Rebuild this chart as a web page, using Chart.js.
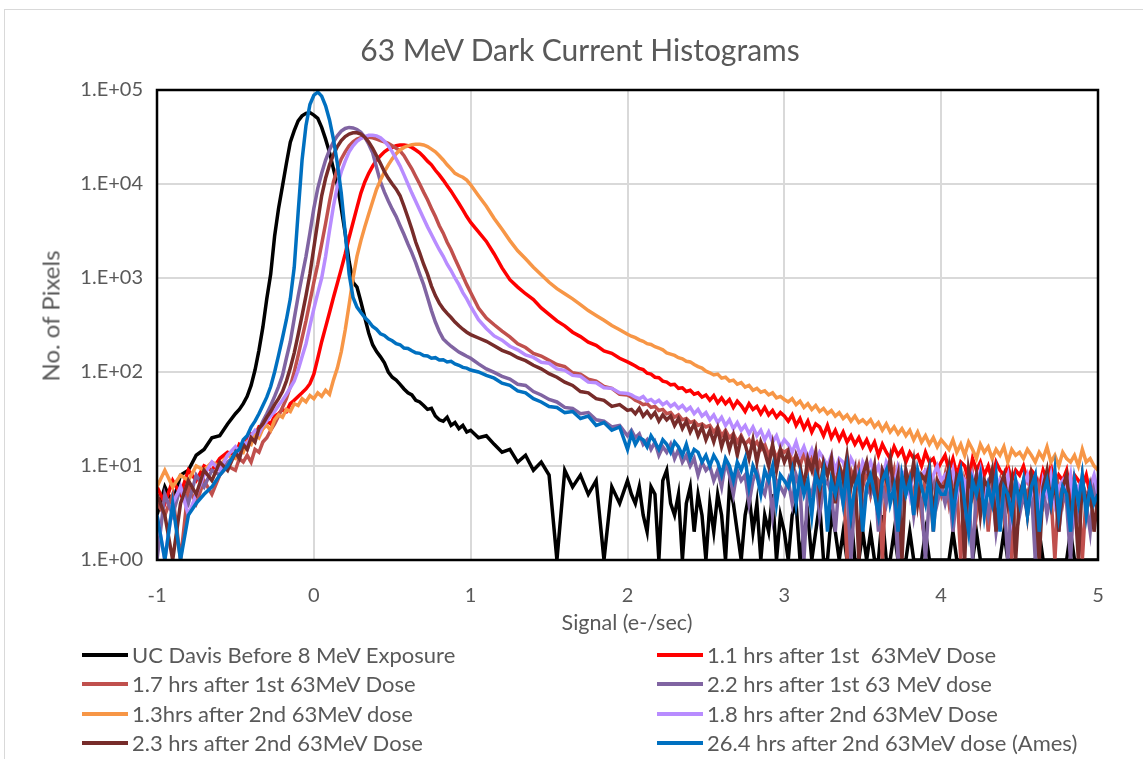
<!DOCTYPE html>
<html>
<head>
<meta charset="utf-8">
<script src="https://cdn.jsdelivr.net/npm/chart.js@4.4.1/dist/chart.umd.min.js"></script>
<style>
  body { margin: 0; background: #fff; font-family: Lato, "Liberation Sans", sans-serif; color: #595959; }
  #wrap { position: relative; width: 1143px; height: 759px; overflow: hidden; }
  #frame { position: absolute; left: 4px; top: 9px; width: 1200px; height: 800px; border: 1px solid #d9d9d9; }
  #chart { position: absolute; left: 0; top: 0; }
  #title { position: absolute; left: 0; width: 1160px; top: 31px; text-align: center; font-size: 30px; }
  #xtitle { position: absolute; left: 0; width: 1254px; top: 609px; text-align: center; font-size: 21.5px; }
  #ytitle { position: absolute; left: 50px; top: 316px; transform: translate(-50%, -50%) rotate(-90deg); font-size: 24px; white-space: nowrap; }
  .item { position: absolute; height: 26px; font-size: 22px; white-space: pre; line-height: 26px; }
  .item span.swatch { position: absolute; left: 0; top: 11px; width: 46px; height: 4px; }
  .item span.lbl { position: absolute; left: 50px; top: 0; }
</style>
</head>
<body>
<div id="wrap">
  <div id="frame"></div>
  <canvas id="chart" width="1143" height="759"></canvas>
  <div id="title">63 MeV Dark Current Histograms</div>
  <div id="xtitle">Signal (e-/sec)</div>
  <div id="ytitle">No. of Pixels</div>
  <div id="legend"></div>
</div>
<script>
// signal bins (e-/sec)
const signal = [
  -1, -0.95, -0.9, -0.85, -0.8, -0.75, -0.7, -0.65, -0.6, -0.55, -0.5, -0.475, -0.45, -0.425, -0.4, -0.375, -0.35, -0.325, -0.3, -0.275, -0.25, -0.225, -0.2, -0.175, -0.15, -0.125, -0.1, -0.075, -0.05, -0.025, 0,
  0.025, 0.05, 0.075, 0.1, 0.125, 0.15, 0.175, 0.2, 0.225, 0.25, 0.275, 0.3, 0.325, 0.35, 0.375, 0.4, 0.425, 0.45, 0.475, 0.5, 0.525, 0.55, 0.575, 0.6, 0.625, 0.65, 0.675, 0.7, 0.725, 0.75, 0.775, 0.8, 0.825, 0.85, 0.875, 0.9, 0.925, 0.95, 0.975, 1,
  1.05, 1.1, 1.15, 1.2, 1.25, 1.3, 1.35, 1.4, 1.45, 1.5, 1.55, 1.6, 1.65, 1.7, 1.75, 1.8, 1.85, 1.9, 1.95, 2,
  2.025, 2.05, 2.075, 2.1, 2.125, 2.15, 2.175, 2.2, 2.225, 2.25, 2.275, 2.3, 2.325, 2.35, 2.375, 2.4, 2.425, 2.45, 2.475, 2.5,
  2.525, 2.55, 2.575, 2.6, 2.625, 2.65, 2.675, 2.7, 2.725, 2.75, 2.775, 2.8, 2.825, 2.85, 2.875, 2.9, 2.925, 2.95, 2.975, 3,
  3.025, 3.05, 3.075, 3.1, 3.125, 3.15, 3.175, 3.2, 3.225, 3.25, 3.275, 3.3, 3.325, 3.35, 3.375, 3.4, 3.425, 3.45, 3.475, 3.5,
  3.525, 3.55, 3.575, 3.6, 3.625, 3.65, 3.675, 3.7, 3.725, 3.75, 3.775, 3.8, 3.825, 3.85, 3.875, 3.9, 3.925, 3.95, 3.975, 4,
  4.025, 4.05, 4.075, 4.1, 4.125, 4.15, 4.175, 4.2, 4.225, 4.25, 4.275, 4.3, 4.325, 4.35, 4.375, 4.4, 4.425, 4.45, 4.475, 4.5,
  4.525, 4.55, 4.575, 4.6, 4.625, 4.65, 4.675, 4.7, 4.725, 4.75, 4.775, 4.8, 4.825, 4.85, 4.875, 4.9, 4.925, 4.95, 4.975, 5
];

const ucDavisBefore = [
  3, 6, 4, 8, 9, 13, 15, 20, 21, 28, 36, 40, 46, 55, 72, 105, 170, 300, 600, 1100, 2800, 5500, 9500, 16500, 27800, 37000, 47000, 53000, 56500, 57500, 54000,
  50000, 40000, 30000, 21700, 14500, 9800, 5500, 3000, 1500, 900, 800, 560, 380, 260, 195, 165, 145, 125, 100, 88, 82, 74, 66, 60, 57, 50, 48, 44, 40, 41, 34, 31, 30, 33, 27, 29, 25, 27, 23, 24,
  20, 21, 17, 14, 15, 11, 13, 9, 11, 8, 1, 9, 6, 8, 5, 7, 1, 6, 4, 7,
  5, 4, 6, 3, 2, 6, 5, 1, 7, 9, 4, 3, 5, 1, 4, 6, 2, 5, 3, 1,
  4, 2, 5, 3, 1, 6, 4, 2, 1, 3, 5, 2, 4, 1, 3, 2, 5, 1, 3, 2,
  1, 3, 4, 1, 2, 3, 1, 2, 4, 1, 1, 3, 2, 1, 2, 1, 3, 1, 1, 2,
  1, 2, 1, 1, 3, 1, 1, 2, 1, 1, 1, 2, 1, 1, 1, 2, 1, 1, 1, 1,
  1, 1, 2, 1, 1, 1, 1, 1, 2, 1, 1, 1, 1, 1, 1, 2, 1, 1, 1, 1,
  1, 1, 1, 1, 2, 1, 1, 1, 1, 1, 1, 1, 2, 1, 1, 1, 1, 1, 1, 1
];
const first11h = [
  6, 4, 7, 5, 9, 7, 10, 9, 12, 14, 13, 17, 16, 20, 22, 21, 26, 25, 30, 28, 34, 36, 40, 38, 46, 50, 55, 60, 66, 75, 95,
  140, 210, 300, 430, 620, 880, 1250, 1800, 2700, 3900, 5600, 8000, 10500, 13000, 15500, 18000, 20000, 22000, 23500, 24500, 25500, 26000, 26000, 25500, 24500, 23000, 21500, 19500, 17500, 16000, 14000, 12500, 11000, 9600, 8400, 7200, 6200, 5300, 4500, 3900,
  3100, 2450, 1800, 1280, 960, 800, 680, 590, 480, 410, 350, 310, 265, 238, 208, 192, 168, 158, 140, 128,
  122, 116, 109, 106, 97, 95, 88, 87, 80, 78, 73, 74, 67, 68, 62, 64, 58, 60, 54, 57,
  50, 56, 47, 53, 46, 51, 42, 49, 44, 38, 46, 40, 43, 36, 42, 35, 39, 33, 37, 34,
  30, 35, 27, 32, 25, 30, 23, 28, 26, 21, 27, 20, 24, 19, 23, 18, 21, 17, 20, 16,
  19, 15, 18, 13, 17, 14, 12, 16, 13, 15, 11, 14, 12, 13, 10, 14, 11, 12, 9, 11,
  13, 9, 12, 8, 11, 10, 7, 12, 9, 11, 8, 10, 7, 11, 9, 8, 10, 7, 9, 8,
  10, 7, 9, 8, 6, 9, 7, 10, 6, 8, 7, 9, 5, 8, 7, 6, 8, 5, 7, 5
];
const first17h = [
  4, 3, 5, 1, 6, 4, 7, 5, 8, 10, 9, 12, 11, 13, 11, 15, 14, 18, 20, 24, 28, 34, 42, 52, 70, 100, 150, 230, 350, 560, 900,
  1400, 2300, 3800, 6500, 10500, 14500, 18500, 22000, 25500, 28000, 30000, 31000, 31500, 31500, 31000, 30000, 29000, 28000, 27000, 25500, 24000, 22500, 20000, 17000, 14500, 12000, 10000, 8200, 6800, 5500, 4500, 3600, 3000, 2400, 2000, 1600, 1300, 1050, 850, 700,
  480, 375, 318, 272, 236, 200, 182, 158, 148, 133, 120, 114, 98, 95, 84, 80, 70, 67, 58, 57,
  54, 50, 48, 45, 46, 42, 43, 39, 40, 36, 37, 33, 35, 31, 32, 29, 30, 27, 28, 26,
  27, 23, 26, 21, 24, 20, 22, 18, 21, 17, 19, 16, 18, 15, 17, 13, 16, 12, 15, 14,
  15, 11, 13, 10, 14, 9, 12, 7, 11, 9, 8, 11, 6, 10, 8, 1, 9, 7, 10, 6,
  9, 5, 8, 7, 1, 8, 6, 9, 4, 7, 6, 8, 5, 7, 3, 8, 6, 2, 7, 5,
  8, 4, 7, 6, 1, 7, 5, 8, 3, 6, 7, 2, 6, 5, 7, 3, 6, 1, 5, 4,
  6, 5, 7, 2, 6, 4, 7, 5, 1, 6, 4, 7, 3, 5, 6, 1, 5, 4, 6, 3
];
const first22h = [
  1, 5, 3, 6, 4, 8, 6, 9, 8, 11, 13, 12, 16, 15, 19, 22, 24, 30, 36, 44, 55, 70, 92, 140, 210, 370, 640, 1050, 1700, 3000, 5500,
  9000, 13000, 18000, 23000, 28000, 32500, 36500, 39000, 40000, 39500, 38000, 35500, 31500, 26500, 21500, 15000, 10500, 8200, 6600, 5400, 4500, 3600, 2900, 2300, 1850, 1450, 1100, 850, 620, 450, 340, 270, 225, 205, 188, 175, 163, 155, 147, 140,
  122, 108, 99, 90, 84, 74, 72, 62, 57, 51, 48, 42, 41, 36, 37, 31, 30, 26, 27, 21,
  24, 20, 22, 17, 19, 15, 18, 13, 16, 14, 17, 12, 15, 11, 13, 10, 12, 8, 11, 9,
  10, 7, 9, 6, 11, 8, 5, 9, 7, 8, 4, 7, 9, 6, 5, 8, 3, 7, 6, 5,
  7, 4, 8, 6, 1, 6, 5, 8, 3, 6, 7, 5, 2, 7, 4, 6, 1, 5, 7, 3,
  6, 5, 8, 2, 6, 4, 7, 5, 1, 6, 5, 7, 3, 6, 4, 1, 5, 7, 4, 6,
  4, 6, 2, 5, 7, 3, 5, 1, 6, 4, 5, 3, 6, 2, 4, 5, 1, 4, 6, 3,
  5, 3, 6, 1, 4, 6, 3, 5, 7, 2, 5, 4, 1, 6, 3, 5, 4, 2, 6, 3
];
const second13h = [
  6, 9, 6, 8, 7, 10, 9, 11, 10, 13, 12, 15, 14, 18, 17, 22, 20, 25, 27, 24, 31, 35, 33, 40, 38, 46, 44, 52, 48, 56, 52,
  60, 55, 64, 58, 82, 110, 165, 280, 520, 1000, 1700, 2500, 3500, 4800, 6500, 8800, 11000, 13500, 16000, 18500, 21000, 23000, 24500, 25500, 26200, 26500, 26500, 26000, 25000, 23500, 22000, 20000, 18000, 16000, 14500, 13000, 12300, 11800, 11000, 9800,
  7500, 5800, 4300, 3300, 2500, 1950, 1600, 1300, 1080, 900, 770, 680, 600, 520, 450, 400, 355, 312, 282, 252,
  240, 232, 220, 212, 200, 196, 186, 180, 172, 160, 155, 150, 142, 138, 130, 128, 120, 114, 110, 102,
  98, 93, 95, 86, 88, 80, 82, 74, 77, 69, 72, 64, 67, 61, 63, 57, 60, 53, 55, 51,
  48, 52, 45, 49, 42, 46, 40, 44, 38, 41, 36, 39, 34, 37, 32, 35, 30, 34, 29, 31,
  28, 31, 26, 29, 24, 28, 23, 26, 22, 25, 21, 24, 19, 23, 18, 21, 17, 20, 16, 19,
  17, 15, 19, 14, 17, 13, 18, 15, 12, 17, 14, 16, 12, 15, 13, 16, 11, 15, 13, 14,
  12, 15, 13, 11, 14, 12, 16, 11, 13, 10, 14, 12, 11, 13, 10, 15, 11, 12, 10, 9
];
const second18h = [
  3, 1, 4, 6, 3, 5, 8, 11, 9, 13, 16, 14, 18, 17, 21, 24, 22, 27, 30, 34, 38, 44, 50, 58, 68, 80, 105, 145, 200, 310, 470,
  690, 1000, 1700, 3200, 5800, 9500, 13500, 17500, 22000, 25500, 28500, 30500, 32000, 33000, 33000, 32500, 31000, 28500, 25500, 22000, 18500, 15500, 12500, 10000, 8000, 6500, 5300, 4300, 3500, 2900, 2400, 2000, 1700, 1400, 1200, 1000, 850, 700, 600, 500,
  360, 290, 242, 218, 188, 172, 152, 143, 127, 124, 108, 104, 92, 90, 78, 77, 68, 67, 60, 59,
  57, 54, 52, 55, 49, 51, 47, 50, 45, 48, 43, 46, 41, 44, 39, 42, 36, 40, 34, 37,
  31, 35, 29, 33, 27, 31, 25, 29, 24, 27, 22, 26, 21, 24, 19, 23, 18, 21, 16, 19,
  17, 14, 18, 13, 16, 12, 15, 11, 14, 12, 10, 13, 9, 12, 11, 8, 12, 10, 7, 11,
  9, 11, 8, 10, 7, 11, 9, 6, 10, 8, 9, 5, 10, 7, 8, 9, 6, 8, 10, 7,
  8, 6, 9, 5, 8, 7, 4, 8, 6, 9, 5, 7, 8, 4, 7, 6, 8, 3, 7, 6,
  6, 8, 5, 7, 3, 7, 5, 8, 4, 6, 7, 5, 8, 3, 6, 7, 4, 6, 8, 5
];
const second23h = [
  5, 3, 1, 4, 7, 5, 9, 7, 11, 9, 14, 12, 17, 15, 20, 18, 25, 28, 33, 38, 45, 52, 62, 80, 110, 160, 250, 400, 650, 1100, 2100,
  4000, 7500, 11500, 16000, 20500, 25000, 29000, 32000, 34000, 35000, 35000, 34000, 31500, 28000, 24000, 20000, 16500, 13500, 11500, 10000, 8800, 7500, 5800, 4400, 3300, 2400, 1850, 1400, 1100, 820, 650, 540, 470, 420, 380, 340, 310, 285, 265, 250,
  230, 212, 190, 170, 158, 142, 132, 118, 108, 96, 88, 78, 72, 62, 60, 52, 50, 43, 45, 39,
  40, 36, 41, 34, 38, 33, 37, 30, 35, 31, 34, 27, 32, 25, 30, 23, 28, 21, 26, 19,
  24, 18, 25, 16, 22, 15, 21, 13, 20, 17, 12, 19, 11, 18, 14, 10, 17, 9, 15, 11,
  14, 8, 13, 10, 6, 12, 9, 14, 5, 11, 8, 12, 4, 10, 7, 13, 6, 9, 1, 8,
  11, 6, 10, 3, 9, 7, 12, 5, 8, 1, 9, 6, 11, 4, 8, 7, 10, 3, 7, 6,
  6, 10, 4, 8, 7, 1, 9, 5, 8, 3, 7, 6, 9, 2, 6, 8, 4, 7, 1, 5,
  7, 3, 8, 5, 1, 6, 9, 4, 7, 2, 6, 8, 3, 5, 1, 7, 4, 6, 2, 5
];
const ames264h = [
  3, 1, 4, 1, 3, 4, 5, 6, 8, 10, 14, 15, 19, 21, 26, 30, 36, 44, 54, 70, 100, 150, 230, 360, 600, 1300, 5000, 18000, 42000, 70000, 88000,
  95000, 86000, 68000, 48000, 30000, 16500, 8000, 3000, 1100, 620, 490, 430, 380, 345, 305, 285, 255, 245, 225, 215, 200, 195, 180, 178, 168, 160, 158, 150, 148, 140, 142, 134, 135, 128, 130, 122, 118, 112, 110, 105,
  100, 92, 86, 76, 72, 63, 60, 52, 48, 43, 42, 37, 38, 32, 34, 27, 29, 24, 26, 15,
  22, 17, 20, 19, 16, 21, 18, 15, 19, 17, 14, 18, 16, 13, 17, 12, 15, 14, 11, 13,
  10, 13, 11, 8, 12, 10, 7, 11, 9, 12, 6, 10, 8, 5, 9, 7, 10, 4, 8, 7,
  6, 9, 4, 8, 5, 7, 3, 8, 6, 9, 2, 7, 5, 8, 4, 9, 3, 6, 8, 2,
  6, 8, 5, 3, 7, 9, 4, 6, 2, 8, 5, 7, 3, 9, 6, 4, 8, 2, 6, 5,
  5, 8, 3, 6, 9, 4, 2, 7, 5, 8, 3, 6, 4, 8, 2, 6, 5, 3, 7, 4,
  7, 3, 6, 8, 2, 5, 7, 4, 9, 3, 6, 5, 2, 7, 4, 8, 3, 6, 4, 5
];

const seriesNames = [
  'UC Davis Before 8 MeV Exposure',
  '1.1 hrs after 1st  63MeV Dose',
  '1.7 hrs after 1st 63MeV Dose',
  '2.2 hrs after 1st 63 MeV dose',
  '1.3hrs after 2nd 63MeV dose',
  '1.8 hrs after 2nd 63MeV Dose',
  '2.3 hrs after 2nd 63MeV Dose',
  '26.4 hrs after 2nd 63MeV dose (Ames)'
];
const seriesValues = [ucDavisBefore, first11h, first17h, first22h, second13h, second18h, second23h, ames264h];
const seriesColors = ['#000000', '#FF0000', '#C0504D', '#8064A2', '#F79646', '#B88CFF', '#772C2A', '#0070C0'];

const yTickValues = [1, 10, 100, 1000, 10000, 100000];
const yTickLabels = ['1.E+00', '1.E+01', '1.E+02', '1.E+03', '1.E+04', '1.E+05'];

const plotBorder = {
  id: 'plotBorder',
  afterDraw(chart) {
    const a = chart.chartArea, ctx = chart.ctx;
    ctx.save();
    ctx.strokeStyle = '#000';
    ctx.lineWidth = 2.5;
    ctx.strokeRect(a.left, a.top, a.right - a.left, a.bottom - a.top);
    ctx.restore();
  }
};

const datasets = seriesValues.map(function (vals, i) {
  return {
    label: seriesNames[i],
    data: signal.map(function (x, j) { return { x: x, y: vals[j] }; }),
    borderColor: seriesColors[i],
    backgroundColor: seriesColors[i],
    borderWidth: 3.5,
    pointRadius: 0,
    tension: 0,
    order: seriesValues.length - i
  };
});

const tickFont = { family: 'Lato', size: 20 };

new Chart(document.getElementById('chart'), {
  type: 'line',
  data: { datasets: datasets },
  options: {
    responsive: false,
    animation: false,
    devicePixelRatio: 1,
    layout: { padding: { top: 90, right: 45, left: 0, bottom: 0 } },
    plugins: { legend: { display: false }, title: { display: false }, tooltip: { enabled: false } },
    scales: {
      x: {
        type: 'linear', min: -1, max: 5,
        afterFit: function (s) { s.height = 199; },
        ticks: { stepSize: 1, padding: 24, color: '#595959', font: tickFont },
        grid: { color: '#d9d9d9', lineWidth: 2, drawTicks: false },
        border: { display: false }
      },
      y: {
        type: 'logarithmic', min: 1, max: 100000,
        afterFit: function (s) { s.width = 157; },
        afterBuildTicks: function (s) { s.ticks = yTickValues.map(function (v) { return { value: v }; }); },
        ticks: {
          padding: 14, color: '#595959', font: tickFont,
          callback: function (v) { return yTickLabels[yTickValues.indexOf(v)]; }
        },
        grid: { color: '#d9d9d9', lineWidth: 2, drawTicks: false },
        border: { display: false }
      }
    }
  },
  plugins: [plotBorder]
});

// legend, two columns like the original
const legend = document.getElementById('legend');
seriesNames.forEach(function (name, i) {
  const row = Math.floor(i / 2), col = i % 2;
  const item = document.createElement('div');
  item.className = 'item';
  item.style.left = (col === 0 ? 82 : 657) + 'px';
  item.style.top = (642 + row * 29.3) + 'px';
  item.innerHTML = '<span class="swatch" style="background:' + seriesColors[i] + '"></span><span class="lbl"></span>';
  item.querySelector('.lbl').textContent = name;
  legend.appendChild(item);
});
</script>
</body>
</html>
